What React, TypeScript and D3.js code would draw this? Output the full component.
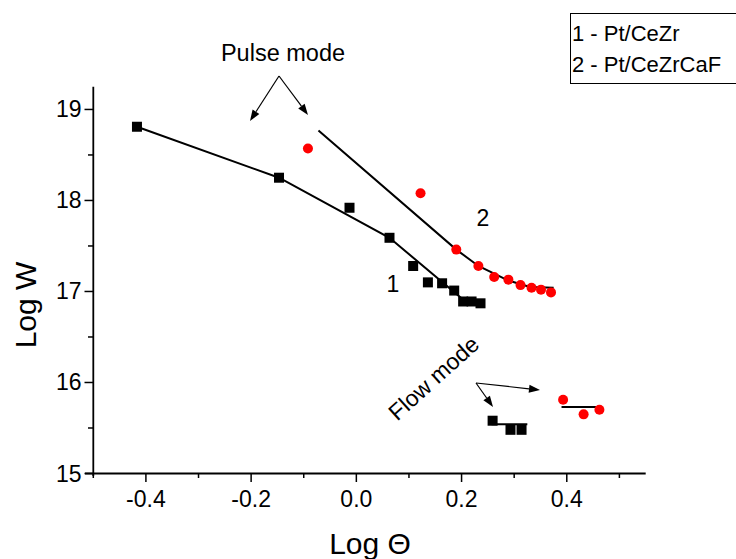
import React from "react";
import * as d3 from "d3";

// Data (Log Θ, Log W)
const s1Pulse: [number, number][] = [
  [-0.417, 18.81], [-0.147, 18.25], [-0.013, 17.92], [0.063, 17.59], [0.108, 17.28],
  [0.136, 17.10], [0.163, 17.09], [0.186, 17.01], [0.203, 16.89], [0.219, 16.89], [0.236, 16.87],
];
const s1PulseFit: [number, number][] = [
  [-0.417, 18.81], [-0.147, 18.25], [0.063, 17.59], [0.205, 16.9], [0.236, 16.89],
];
const s2Pulse: [number, number][] = [
  [-0.092, 18.57], [0.122, 18.08], [0.19, 17.46], [0.232, 17.28], [0.262, 17.16],
  [0.289, 17.13], [0.312, 17.07], [0.333, 17.04], [0.351, 17.02], [0.37, 16.99],
];
const s2PulseFit: [number, number][] = [
  [-0.072, 18.77], [0.19, 17.46], [0.232, 17.28], [0.289, 17.12], [0.33, 17.05], [0.375, 17.04],
];
const s1Flow: [number, number][] = [[0.259, 15.58], [0.293, 15.48], [0.314, 15.48]];
const s1FlowFit: [number, number][] = [[0.257, 15.54], [0.325, 15.54]];
const s2Flow: [number, number][] = [[0.393, 15.81], [0.432, 15.65], [0.462, 15.7]];
const s2FlowFit: [number, number][] = [[0.39, 15.73], [0.46, 15.73]];

const xTicks = [-0.4, -0.2, 0.0, 0.2, 0.4];
const xMinor = [-0.5, -0.3, -0.1, 0.1, 0.3, 0.5];
const yTicks = [15, 16, 17, 18, 19];
const yMinor = [15.5, 16.5, 17.5, 18.5];
const legendItems = ["1 - Pt/CeZr", "2 - Pt/CeZrCaF"];

const FONT = "'Liberation Sans', Arial, sans-serif";

export default function App() {
  const x = d3.scaleLinear().domain([-0.5, 0.55]).range([93.3, 645.7]);
  const y = d3.scaleLinear().domain([15, 19.25]).range([473.5, 86.7]);
  const line = d3.line<[number, number]>().x((d) => x(d[0])).y((d) => y(d[1]));
  const sq = 10;
  const r = 5;

  const arrow = (x1: number, y1: number, x2: number, y2: number, key: string) => {
    const ang = Math.atan2(y2 - y1, x2 - x1);
    const L = 11, W = 4;
    const bx = x2 - L * Math.cos(ang), by = y2 - L * Math.sin(ang);
    const px = -Math.sin(ang) * W, py = Math.cos(ang) * W;
    return (
      <g key={key}>
        <line x1={x1} y1={y1} x2={bx} y2={by} stroke="#000" strokeWidth={1.2} />
        <path d={`M${x2},${y2}L${bx + px},${by + py}L${bx - px},${by - py}Z`} fill="#000" />
      </g>
    );
  };

  return (
    <svg width={736} height={559} style={{ position: "absolute", left: 0, top: 0, background: "#fff" }} fontFamily={FONT}>
      <rect width={736} height={559} fill="#fff" />
      {/* axes */}
      <line x1={85} x2={645.7} y1={473.5} y2={473.5} stroke="#000" strokeWidth={1.8} />
      <line x1={93.3} x2={93.3} y1={86.7} y2={476} stroke="#000" strokeWidth={1.8} />
      {xTicks.map((t) => (
        <g key={"xt" + t}>
          <line x1={x(t)} x2={x(t)} y1={473.5} y2={482} stroke="#000" strokeWidth={1.5} />
          <text x={x(t)} y={507} fontSize={23} textAnchor="middle">{t.toFixed(1)}</text>
        </g>
      ))}
      {xMinor.map((t) => (
        <line key={"xm" + t} x1={x(t)} x2={x(t)} y1={473.5} y2={478} stroke="#000" strokeWidth={1.5} />
      ))}
      {yTicks.map((t) => (
        <g key={"yt" + t}>
          <line x1={84.5} x2={93.3} y1={y(t)} y2={y(t)} stroke="#000" strokeWidth={1.5} />
          <text x={81.5} y={y(t) + 8} fontSize={23} textAnchor="end">{t}</text>
        </g>
      ))}
      {yMinor.map((t) => (
        <line key={"ym" + t} x1={88} x2={93.3} y1={y(t)} y2={y(t)} stroke="#000" strokeWidth={1.5} />
      ))}
      <text x={370} y={554} fontSize={30} textAnchor="middle">Log Θ</text>
      <text transform="translate(36,305) rotate(-90)" fontSize={30} textAnchor="middle">Log W</text>

      {/* fit lines */}
      {[s1PulseFit, s2PulseFit, s1FlowFit, s2FlowFit].map((d, i) => (
        <path key={"fit" + i} d={line(d) || ""} fill="none" stroke="#000" strokeWidth={2} />
      ))}
      {/* series 1 squares */}
      {[...s1Pulse, ...s1Flow].map((d, i) => (
        <rect key={"s" + i} x={x(d[0]) - sq / 2} y={y(d[1]) - sq / 2} width={sq} height={sq} fill="#000" />
      ))}
      {/* series 2 circles */}
      {[...s2Pulse, ...s2Flow].map((d, i) => (
        <circle key={"c" + i} cx={x(d[0])} cy={y(d[1])} r={r} fill="#ff0000" />
      ))}

      {/* labels */}
      <text x={393} y={292} fontSize={23} textAnchor="middle">1</text>
      <text x={483} y={226} fontSize={23} textAnchor="middle">2</text>
      <text x={283} y={61} fontSize={23.5} textAnchor="middle">Pulse mode</text>
      {arrow(279, 76, 250, 121, "a1")}
      {arrow(279, 76, 308, 115, "a2")}
      <text transform="translate(439,384) rotate(-42)" fontSize={23} textAnchor="middle">Flow mode</text>
      {arrow(476, 383, 540, 390, "a3")}
      {arrow(476, 383, 493, 407, "a4")}

      {/* legend */}
      <rect x={570.5} y={13.5} width={170} height={70} fill="#fff" stroke="#000" strokeWidth={1} />
      {legendItems.map((t, i) => (
        <text key={t} x={572} y={41 + i * 31} fontSize={22}>{t}</text>
      ))}
    </svg>
  );
}
